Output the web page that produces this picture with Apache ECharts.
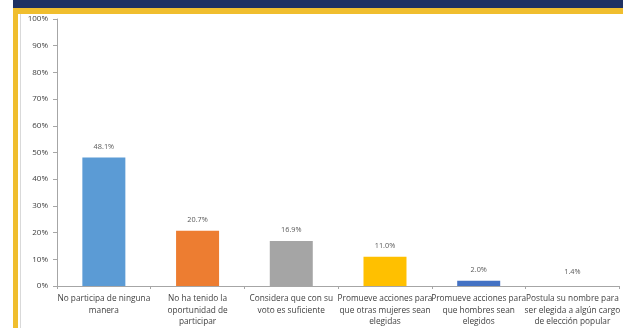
<!DOCTYPE html>
<html>
<head>
<meta charset="utf-8">
<style>
  html, body { margin: 0; padding: 0; background: #ffffff; }
  #chart { width: 623px; height: 328px; }
</style>
<script src="https://cdn.jsdelivr.net/npm/echarts@6/dist/echarts.min.js"></script>
</head>
<body>
<div id="chart"></div>
<script>
// Survey answers and their shares (%)
const categories = [
  'No participa de ninguna\nmanera',
  'No ha tenido la\noportunidad de\nparticipar',
  'Considera que con su\nvoto es suficiente',
  'Promueve acciones para\nque otras mujeres sean\nelegidas',
  'Promueve acciones para\nque hombres sean\nelegidos',
  'Postula su nombre para\nser elegida a algún cargo\nde elección popular'
];
const values = [48.1, 20.7, 16.9, 11.0, 2.0, 1.4];
const barColors = ['#5B9BD5', '#ED7D31', '#A5A5A5', '#FFC000', '#4472C4', 'rgba(0,0,0,0)'];
const yTicks = [0, 10, 20, 30, 40, 50, 60, 70, 80, 90, 100];

const chart = echarts.init(document.getElementById('chart'), null, { renderer: 'canvas' });

const font = '"Open Sans", "Liberation Sans", sans-serif';

chart.setOption({
  animation: false,
  backgroundColor: '#ffffff',
  graphic: [
    // header band
    { type: 'rect', shape: { x: 13, y: 0, width: 610, height: 8 }, style: { fill: '#1F3162' }, z: 10 },
    { type: 'rect', shape: { x: 13, y: 8, width: 610, height: 6 }, style: { fill: '#F0BE2E' }, z: 10 },
    // left frame
    { type: 'rect', shape: { x: 13, y: 8, width: 5, height: 320 }, style: { fill: '#F0BE2E' }, z: 10 },
    { type: 'rect', shape: { x: 20, y: 14, width: 1, height: 314 }, style: { fill: '#D9D9D9' }, z: 10 }
  ],
  grid: { left: 57, right: 0, top: 19, bottom: 42, containLabel: false },
  xAxis: {
    type: 'category',
    data: categories,
    axisLine: { lineStyle: { color: '#A6A6A6', width: 1 } },
    axisTick: { show: true, length: 3, alignWithLabel: false, lineStyle: { color: '#A6A6A6' } },
    axisLabel: {
      interval: 0,
      color: '#404040',
      fontFamily: font,
      fontSize: 8.3,
      lineHeight: 11.5,
      margin: 7
    }
  },
  yAxis: {
    type: 'value',
    min: yTicks[0],
    max: yTicks[yTicks.length - 1],
    interval: yTicks[1] - yTicks[0],
    splitLine: { show: false },
    axisLine: { show: true, lineStyle: { color: '#A6A6A6', width: 1 } },
    axisTick: { show: true, length: 4, lineStyle: { color: '#A6A6A6' } },
    axisLabel: {
      color: '#404040',
      fontFamily: font,
      fontSize: 8,
      margin: 9,
      formatter: v => v + '%'
    }
  },
  series: [{
    type: 'bar',
    data: values.map((v, i) => ({ value: v, itemStyle: { color: barColors[i] } })),
    barWidth: 43,
    label: {
      show: true,
      position: 'top',
      distance: 7,
      color: '#595959',
      fontFamily: font,
      fontSize: 7.3,
      formatter: p => p.value.toFixed(1) + '%'
    }
  }]
});
</script>
</body>
</html>
